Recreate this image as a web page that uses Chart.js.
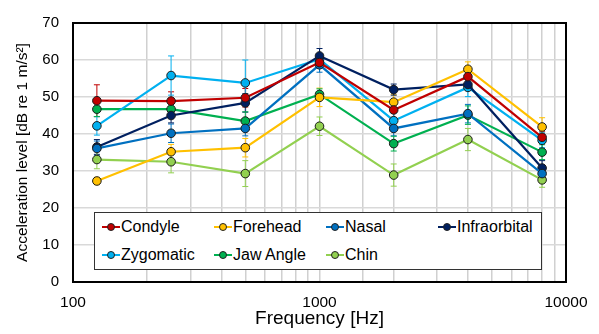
<!DOCTYPE html>
<html>
<head>
<meta charset="utf-8">
<script src="https://cdn.jsdelivr.net/npm/chart.js@4"></script>
<style>
  html, body { margin: 0; padding: 0; background: #fff; }
  #wrap { position: relative; width: 599px; height: 334px; }
  #legend {
    position: absolute; left: 94px; top: 212px; width: 448px; height: 58px;
    border: 1.5px solid #333; background: #fff; box-sizing: border-box;
    font-family: "Liberation Sans", Arial, sans-serif; font-size: 16px; color: #000;
    display: grid; grid-template-columns: 112px 112px 112px 100px; grid-template-rows: 28px 28px;
    padding: 0 0 0 7px;
  }
  .item { display: flex; align-items: center; white-space: nowrap; }
  .mark { position: relative; width: 18px; height: 10px; margin-right: 1px; }
  .mark .ln { position: absolute; left: 0; right: 0; top: 4px; height: 2px; }
  .mark .dot { position: absolute; left: 5px; top: 1px; width: 6px; height: 6px; border-radius: 50%; border: 1px solid #222; }
</style>
</head>
<body>
<div id="wrap">
  <canvas id="chart" width="599" height="334"></canvas>
  <div id="legend"></div>
</div>
<script>
const frequencies = [125, 250, 500, 1000, 2000, 4000, 8000];
const seriesNames = ['Condyle', 'Forehead', 'Nasal', 'Infraorbital', 'Zygomatic', 'Jaw Angle', 'Chin'];
const seriesColors = ['#C00000', '#FFC000', '#0070C0', '#002060', '#00B0F0', '#00B050', '#92D050'];

const condyle = [49.0, 48.9, 49.8, 59.3, 46.5, 55.5, 39.1];
const forehead = [27.3, 35.2, 36.3, 49.9, 48.6, 57.5, 41.9];
const nasal = [36.1, 40.2, 41.5, 58.7, 41.5, 45.5, 29.3];
const infraorbital = [36.5, 45.0, 48.4, 61.1, 52.0, 53.4, 30.8];
const zygomatic = [42.2, 55.8, 53.8, 60.2, 43.6, 52.6, 38.3];
const jawAngle = [46.7, 46.7, 43.5, 50.7, 37.4, 45.1, 35.1];
const chin = [33.1, 32.5, 29.3, 42.1, 28.9, 38.5, 27.6];

const condyleErr = [4.3, 2.5, 2.5, 1.5, 2, 2, 1.5];
const foreheadErr = [1, 2, 2.5, 2.5, 2, 2, 2.5];
const nasalErr = [2, 2.5, 2, 2, 2, 2.5, 2];
const infraorbitalErr = [2, 2, 2.5, 2, 1.5, 1.5, 2];
const zygomaticErr = [2.5, 5.3, 6.2, 1.5, 2, 2.5, 2];
const jawAngleErr = [2, 2, 2.5, 1.5, 2, 2.5, 2];
const chinErr = [2.5, 3, 3.5, 2.5, 3, 3, 2];

const yTicks = [0, 10, 20, 30, 40, 50, 60, 70];
const xLabels = [100, 1000, 10000];

const values = [condyle, forehead, nasal, infraorbital, zygomatic, jawAngle, chin];
const errors = [condyleErr, foreheadErr, nasalErr, infraorbitalErr, zygomaticErr, jawAngleErr, chinErr];

const datasets = seriesNames.map((name, i) => ({
  label: name,
  data: frequencies.map((f, j) => ({ x: f, y: values[i][j] })),
  errors: errors[i],
  borderColor: seriesColors[i],
  backgroundColor: seriesColors[i],
  borderWidth: 2.2,
  pointRadius: 4.3,
  pointBorderColor: '#1a1a1a',
  pointBorderWidth: 1,
  pointBackgroundColor: seriesColors[i],
  tension: 0,
}));

// error bars, drawn under the lines and markers
const errorBars = {
  id: 'errorBars',
  beforeDatasetsDraw(chart) {
    const ctx = chart.ctx;
    const xs = chart.scales.x, ys = chart.scales.y;
    ctx.save();
    chart.data.datasets.forEach((ds) => {
      ctx.strokeStyle = ds.borderColor;
      ctx.lineWidth = 1;
      ds.data.forEach((p, j) => {
        const e = ds.errors[j];
        const px = xs.getPixelForValue(p.x);
        const top = ys.getPixelForValue(p.y + e);
        const bot = ys.getPixelForValue(p.y - e);
        ctx.beginPath();
        ctx.moveTo(px, top); ctx.lineTo(px, bot);
        ctx.moveTo(px - 3, top); ctx.lineTo(px + 3, top);
        ctx.moveTo(px - 3, bot); ctx.lineTo(px + 3, bot);
        ctx.stroke();
      });
    });
    ctx.restore();
  }
};

const frame = {
  id: 'frame',
  afterDatasetsDraw(chart) {
    const a = chart.chartArea, ctx = chart.ctx;
    ctx.save();
    ctx.strokeStyle = '#000';
    ctx.lineWidth = 2;
    ctx.strokeRect(a.left, a.top, a.right - a.left, a.bottom - a.top);
    ctx.restore();
  }
};

new Chart(document.getElementById('chart'), {
  type: 'line',
  data: { datasets },
  plugins: [errorBars, frame],
  options: {
    responsive: false,
    animation: false,
    layout: { padding: { top: 19, right: 33, left: 0, bottom: 0 } },
    plugins: { legend: { display: false }, tooltip: { enabled: false } },
    scales: {
      x: {
        type: 'logarithmic',
        min: 100,
        max: 10000,
        afterFit(s) { s.height = 52; },
        grid: { color: '#d0d0d0', lineWidth: 1.5, drawTicks: false },
        border: { display: false },
        ticks: {
          autoSkip: false,
          maxRotation: 0,
          padding: 11,
          color: '#000',
          font: { family: 'Liberation Sans', size: 15.5 },
          callback: (v) => xLabels.includes(v) ? String(v) : '',
        },
        title: {
          display: true,
          text: 'Frequency [Hz]',
          color: '#000',
          font: { family: 'Liberation Sans', size: 19 },
          padding: { top: 0 },
        },
      },
      y: {
        min: 0,
        max: 70,
        afterFit(s) { s.width = 73; },
        afterBuildTicks(s) { s.ticks = yTicks.map((v) => ({ value: v })); },
        grid: { color: '#d9d9d9', lineWidth: 1.5, drawTicks: false },
        border: { display: false },
        ticks: {
          padding: 14,
          color: '#000',
          font: { family: 'Liberation Sans', size: 15 },
        },
        title: {
          display: true,
          text: 'Acceleration level [dB re 1 m/s²]',
          color: '#000',
          font: { family: 'Liberation Sans', size: 15.5 },
          padding: { top: 13, bottom: 2 },
        },
      },
    },
  },
});

// legend box inside the plot
const legend = document.getElementById('legend');
seriesNames.forEach((name, i) => {
  const item = document.createElement('div');
  item.className = 'item';
  item.innerHTML = '<span class="mark"><span class="ln" style="background:' + seriesColors[i] +
    '"></span><span class="dot" style="background:' + seriesColors[i] + '"></span></span>' + name;
  legend.appendChild(item);
});
</script>
</body>
</html>
